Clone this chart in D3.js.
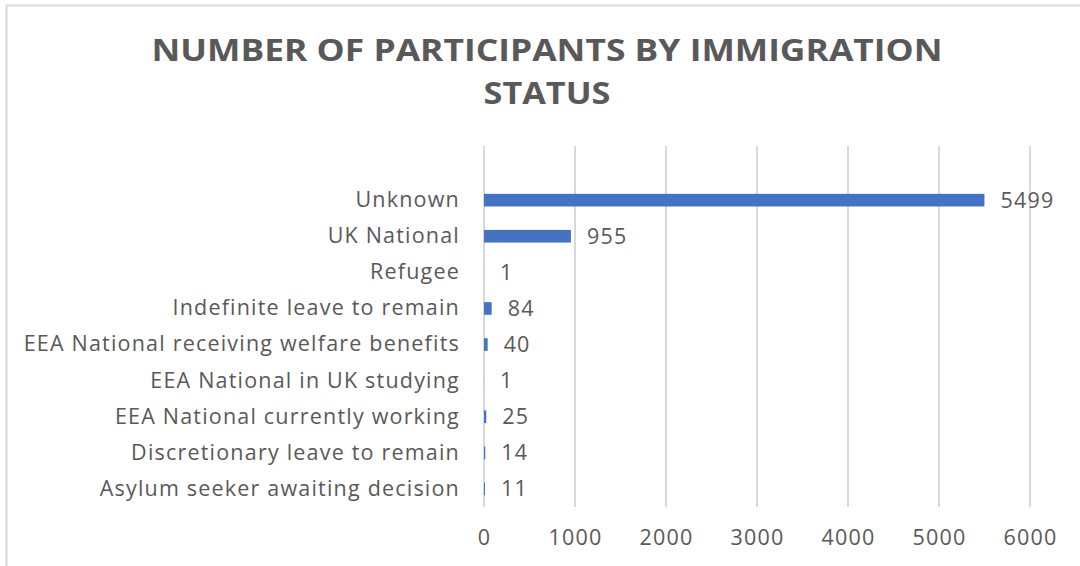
<!DOCTYPE html>
<html>
<head>
<meta charset="utf-8">
<script src="https://cdn.jsdelivr.net/npm/d3@7"></script>
<style>
  html, body { margin: 0; padding: 0; background: #fff; }
  svg { display: block; }
  text { font-family: "Open Sans", "Noto Sans", sans-serif; fill: #595959; }
</style>
</head>
<body>
<svg id="chart" width="1080" height="566"></svg>
<script>
// Immigration status categories, listed top to bottom
const categories = [
  "Unknown",
  "UK National",
  "Refugee",
  "Indefinite leave to remain",
  "EEA National receiving welfare benefits",
  "EEA National in UK studying",
  "EEA National currently working",
  "Discretionary leave to remain",
  "Asylum seeker awaiting decision"
];
const participants = [5499, 955, 1, 84, 40, 1, 25, 14, 11];
const xTicks = [0, 1000, 2000, 3000, 4000, 5000, 6000];
const titleLines = ["NUMBER OF PARTICIPANTS BY IMMIGRATION", "STATUS"];

const labelFont = '"Open Sans", "Noto Sans", sans-serif';
const labelSize = "21.5px";
const labelSpacing = "1.2px";

const svg = d3.select("#chart");

// chart frame
svg.append("rect")
  .attr("x", 6.5).attr("y", 5.5)
  .attr("width", 1100).attr("height", 600)
  .attr("fill", "none").attr("stroke", "#d9d9d9").attr("stroke-width", 2);

const plot = { left: 484, right: 1030, top: 146, bottom: 507 };
const step = (plot.bottom - plot.top) / (categories.length + 1);

const x = d3.scaleLinear().domain([0, 6000]).range([plot.left, plot.right]);
const y = d3.scaleBand()
  .domain(categories)
  .range([plot.top + step, plot.bottom])
  .paddingInner(0.65)
  .paddingOuter(0.325);

// vertical gridlines
svg.append("g")
  .selectAll("line")
  .data(xTicks)
  .join("line")
  .attr("x1", d => x(d)).attr("x2", d => x(d))
  .attr("y1", plot.top).attr("y2", plot.bottom)
  .attr("stroke", "#d9d9d9").attr("stroke-width", 2);

// x axis tick labels
const xAxis = d3.axisBottom(x).tickValues(xTicks).tickFormat(d3.format("d"))
  .tickSize(0).tickPadding(0);
const gx = svg.append("g")
  .attr("transform", `translate(0,${plot.bottom + 30})`)
  .call(xAxis);
gx.select(".domain").remove();
gx.selectAll("text")
  .attr("dy", "0.35em")
  .style("font-family", labelFont)
  .style("font-size", labelSize)
  .style("letter-spacing", labelSpacing)
  .style("fill", "#595959");

// category labels
const yAxis = d3.axisLeft(y).tickSize(0).tickPadding(0);
const gy = svg.append("g")
  .attr("transform", `translate(${plot.left - 24},0)`)
  .call(yAxis);
gy.select(".domain").remove();
gy.selectAll("text")
  .style("font-family", labelFont)
  .style("font-size", labelSize)
  .style("letter-spacing", labelSpacing)
  .style("fill", "#595959");

// bars
svg.append("g")
  .selectAll("rect")
  .data(categories)
  .join("rect")
  .attr("x", x(0))
  .attr("y", d => y(d))
  .attr("width", (d, i) => x(participants[i]) - x(0))
  .attr("height", y.bandwidth())
  .attr("fill", "#4472C4");

// value labels
svg.append("g")
  .selectAll("text")
  .data(categories)
  .join("text")
  .attr("x", (d, i) => x(participants[i]) + 16)
  .attr("y", d => y(d) + y.bandwidth() / 2)
  .attr("dy", "0.35em")
  .style("font-size", labelSize)
  .style("letter-spacing", labelSpacing)
  .text((d, i) => participants[i]);

// title
const titleWidths = [791, 127];
svg.append("g")
  .selectAll("text")
  .data(titleLines)
  .join("text")
  .attr("x", 547)
  .attr("y", (d, i) => 61 + i * 43)
  .attr("text-anchor", "middle")
  .attr("textLength", (d, i) => titleWidths[i])
  .attr("lengthAdjust", "spacingAndGlyphs")
  .style("font-size", "30px")
  .style("font-weight", "700")
  .text(d => d);
</script>
</body>
</html>
